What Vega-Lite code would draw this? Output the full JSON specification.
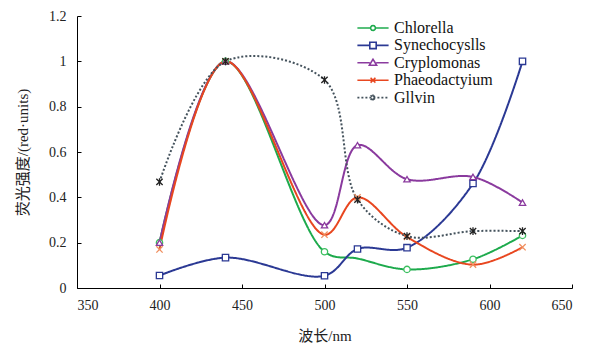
{
  "$schema": "https://vega.github.io/schema/vega-lite/v6.json",
  "width": 495,
  "height": 272,
  "autosize": {"type": "none"},
  "padding": {"left": 77, "top": 16, "right": 27, "bottom": 57},
  "background": "white",
  "config": {
    "view": {"stroke": null},
    "font": "'Liberation Serif', 'Times New Roman', 'DejaVu Serif', serif",
    "axis": {
      "grid": false,
      "domainColor": "#000",
      "tickColor": "#000",
      "labelColor": "#222",
      "titleColor": "#222",
      "labelFont": "'Liberation Serif', 'Times New Roman', 'DejaVu Serif', serif",
      "titleFont": "'Liberation Serif', 'Times New Roman', 'Noto Sans CJK SC', serif",
      "labelFontSize": 14,
      "titleFontSize": 15,
      "titleFontWeight": "normal",
      "tickSize": -4
    },
    "legend": {"labelFont": "'Liberation Serif', 'Times New Roman', 'DejaVu Serif', serif", "labelFontSize": 16, "labelColor": "#111"}
  },
  "data": {
    "values": [
      {"species": "Chlorella", "wl": 400, "v": 0.2},
      {"species": "Chlorella", "wl": 440, "v": 1.0},
      {"species": "Chlorella", "wl": 500, "v": 0.16},
      {"species": "Chlorella", "wl": 520, "v": 0.13},
      {"species": "Chlorella", "wl": 550, "v": 0.082},
      {"species": "Chlorella", "wl": 590, "v": 0.127},
      {"species": "Chlorella", "wl": 620, "v": 0.232},
      {"species": "Synechocyslls", "wl": 400, "v": 0.055},
      {"species": "Synechocyslls", "wl": 440, "v": 0.134},
      {"species": "Synechocyslls", "wl": 500, "v": 0.054},
      {"species": "Synechocyslls", "wl": 520, "v": 0.172},
      {"species": "Synechocyslls", "wl": 550, "v": 0.178},
      {"species": "Synechocyslls", "wl": 590, "v": 0.461},
      {"species": "Synechocyslls", "wl": 620, "v": 1.0},
      {"species": "Cryplomonas", "wl": 400, "v": 0.2},
      {"species": "Cryplomonas", "wl": 440, "v": 1.0},
      {"species": "Cryplomonas", "wl": 500, "v": 0.277},
      {"species": "Cryplomonas", "wl": 520, "v": 0.63},
      {"species": "Cryplomonas", "wl": 550, "v": 0.48},
      {"species": "Cryplomonas", "wl": 590, "v": 0.49},
      {"species": "Cryplomonas", "wl": 620, "v": 0.377},
      {"species": "Phaeodactyium", "wl": 400, "v": 0.17},
      {"species": "Phaeodactyium", "wl": 440, "v": 1.0},
      {"species": "Phaeodactyium", "wl": 500, "v": 0.235},
      {"species": "Phaeodactyium", "wl": 520, "v": 0.4},
      {"species": "Phaeodactyium", "wl": 550, "v": 0.225},
      {"species": "Phaeodactyium", "wl": 590, "v": 0.103},
      {"species": "Phaeodactyium", "wl": 620, "v": 0.18},
      {"species": "Gllvin", "wl": 400, "v": 0.468},
      {"species": "Gllvin", "wl": 440, "v": 1.0},
      {"species": "Gllvin", "wl": 500, "v": 0.918},
      {"species": "Gllvin", "wl": 520, "v": 0.39},
      {"species": "Gllvin", "wl": 550, "v": 0.229},
      {"species": "Gllvin", "wl": 590, "v": 0.251},
      {"species": "Gllvin", "wl": 620, "v": 0.251}
    ]
  },
  "encoding": {
    "x": {
      "field": "wl", "type": "quantitative",
      "scale": {"domain": [350, 650], "nice": false},
      "axis": {"values": [350, 400, 450, 500, 550, 600, 650], "title": "波长/nm", "labelPadding": 14, "titlePadding": 16}
    },
    "y": {
      "field": "v", "type": "quantitative",
      "scale": {"domain": [0, 1.2], "nice": false},
      "axis": {"values": [0, 0.2, 0.4, 0.6, 0.8, 1, 1.2], "format": "~g", "title": "荧光强度/(red·units)", "labelPadding": 15, "titlePadding": 18}
    }
  },
  "layer": [
    {
      "mark": {"type": "line", "interpolate": "catmull-rom", "strokeWidth": 2},
      "encoding": {
        "color": {
          "field": "species", "type": "nominal",
          "scale": {"domain": ["Chlorella", "Synechocyslls", "Cryplomonas", "Phaeodactyium", "Gllvin"],
                    "range": ["#1daa4c", "#2b3994", "#8a3a9e", "#e8461f", "#44525c"]},
          "legend": null
        },
        "strokeDash": {
          "field": "species", "type": "nominal",
          "scale": {"domain": ["Chlorella", "Synechocyslls", "Cryplomonas", "Phaeodactyium", "Gllvin"],
                    "range": [[1, 0], [1, 0], [1, 0], [1, 0], [2, 2]]},
          "legend": null
        },
        "strokeWidth": {
          "field": "species", "type": "nominal",
          "scale": {"domain": ["Chlorella", "Synechocyslls", "Cryplomonas", "Phaeodactyium", "Gllvin"],
                    "range": [2.2, 2, 2, 1.6, 1.3]},
          "legend": null
        }
      }
    },
    {
      "transform": [{"filter": "!(datum.species == 'Chlorella' && datum.wl == 520)"}],
      "mark": {"type": "point", "filled": false, "fill": "white", "size": 40, "strokeWidth": 1.3, "opacity": 1},
      "encoding": {
        "stroke": {
          "field": "species", "type": "nominal",
          "scale": {"domain": ["Chlorella", "Synechocyslls", "Cryplomonas", "Phaeodactyium", "Gllvin"],
                    "range": ["#3bbf5f", "#2b3994", "#8a3a9e", "#f09060", "#222222"]},
          "legend": null
        },
        "shape": {
          "field": "species", "type": "nominal",
          "scale": {"domain": ["Chlorella", "Synechocyslls", "Cryplomonas", "Phaeodactyium", "Gllvin"],
                    "range": ["circle", "square", "triangle-up", "M-1,-1L1,1M-1,1L1,-1", "M-1,-1L1,1M-1,1L1,-1M0,-1.2L0,1.2"]},
          "legend": null
        }
      }
    },
    {
      "mark": {"type": "point", "filled": false, "fill": "white", "size": 256, "strokeWidth": 1.6, "opacity": 0},
      "encoding": {
        "stroke": {
          "field": "species", "type": "nominal",
          "scale": {"domain": ["Chlorella", "Synechocyslls", "Cryplomonas", "Phaeodactyium", "Gllvin"],
                    "range": ["#1daa4c", "#2b3994", "#8a3a9e", "#e8461f", "#44525c"]},
          "legend": {
            "title": null, "orient": "none", "legendX": 287, "legendY": 3,
            "symbolOpacity": 1, "symbolStrokeWidth": 1.6, "symbolSize": 256,
            "labelOffset": 12, "rowPadding": 0.4, "padding": 0
          }
        },
        "strokeDash": {
          "field": "species", "type": "nominal",
          "scale": {"domain": ["Chlorella", "Synechocyslls", "Cryplomonas", "Phaeodactyium", "Gllvin"],
                    "range": [[1, 0], [1, 0], [1, 0], [1, 0], [2, 2]]},
          "legend": {
            "title": null, "orient": "none", "legendX": 287, "legendY": 3,
            "symbolOpacity": 1, "symbolStrokeWidth": 1.6, "symbolSize": 256,
            "labelOffset": 12, "rowPadding": 0.4, "padding": 0
          }
        },
        "shape": {
          "field": "species", "type": "nominal",
          "scale": {"domain": ["Chlorella", "Synechocyslls", "Cryplomonas", "Phaeodactyium", "Gllvin"],
                    "range": [
                      "M-1.95,0L-0.3,0M0.3,0L1.95,0M-0.3,0A0.3,0.3 0 1,0 0.3,0A0.3,0.3 0 1,0 -0.3,0",
                      "M-1.95,0L-0.4,0M0.4,0L1.95,0M-0.4,-0.4H0.4V0.4H-0.4Z",
                      "M-1.95,0L-0.4,0M0.4,0L1.95,0M0,-0.45L0.45,0.3H-0.45Z",
                      "M-1.95,0L1.95,0M-0.3,-0.3L0.3,0.3M-0.3,0.3L0.3,-0.3",
                      "M-1.95,0L1.95,0M-0.3,-0.3L0.3,0.3M-0.3,0.3L0.3,-0.3M0,-0.38L0,0.38"
                    ]},
          "legend": {
            "title": null, "orient": "none", "legendX": 287, "legendY": 3,
            "symbolOpacity": 1, "symbolStrokeWidth": 1.6, "symbolSize": 256,
            "labelOffset": 12, "rowPadding": 0.4, "padding": 0
          }
        }
      }
    }
  ],
  "resolve": {"scale": {"stroke": "independent", "shape": "independent", "strokeDash": "independent"}}
}
